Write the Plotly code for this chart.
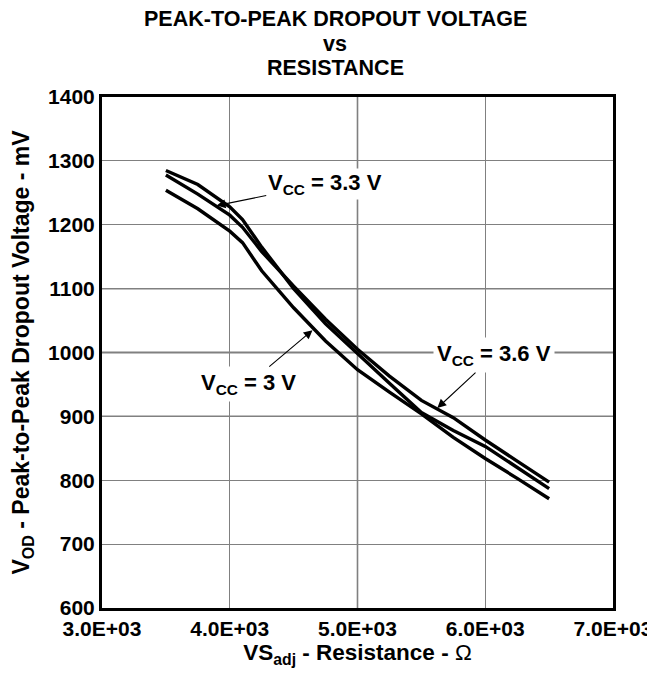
import plotly.graph_objects as go

# ---- data ----
resistance = [3500, 3750, 4000, 4100, 4250, 4500, 4750, 5000, 5250, 5500, 5750, 6000, 6250, 6500]
vod_3v3 = [1285, 1263, 1228, 1208, 1165, 1100, 1045, 998, 952, 906, 878, 853, 820, 787]
vod_3v6 = [1278, 1248, 1215, 1196, 1158, 1104, 1052, 1005, 963, 925, 898, 863, 830, 797]
vod_3v0 = [1254, 1225, 1190, 1172, 1128, 1070, 1018, 973, 938, 904, 867, 834, 803, 771]

x_tick_vals = [3000, 4000, 5000, 6000, 7000]
x_tick_text = ["3.0E+03", "4.0E+03", "5.0E+03", "6.0E+03", "7.0E+03"]
y_tick_vals = [600, 700, 800, 900, 1000, 1100, 1200, 1300, 1400]

dark_grid_y = [900, 1000, 1100]
dark_grid_x = [5000]

FONT = "Liberation Sans, Arial, sans-serif"

fig = go.Figure()
for vals in (vod_3v0, vod_3v3, vod_3v6):
    fig.add_trace(go.Scatter(x=resistance, y=vals, mode="lines",
                             line=dict(color="black", width=3.4),
                             showlegend=False, hoverinfo="skip"))

shapes = []
for yv in dark_grid_y:
    shapes.append(dict(type="line", xref="paper", yref="y", x0=0, x1=1, y0=yv, y1=yv,
                       line=dict(color="black", width=1.3), layer="between"))
for xv in dark_grid_x:
    shapes.append(dict(type="line", xref="x", yref="paper", x0=xv, x1=xv, y0=0, y1=1,
                       line=dict(color="black", width=1.3), layer="between"))

afont = dict(family=FONT, size=22, color="black")
tfont = dict(family=FONT, size=21.5, color="black")
annotations = [
    dict(x=3898, y=1230, xref="x", yref="y", text="<b>V<sub>CC</sub> = 3.3 V</b>",
         showarrow=True, ax=108, ay=-22, arrowhead=2, arrowsize=1.6, arrowwidth=1.1,
         arrowcolor="black", font=afont, bgcolor="white", borderpad=1),
    dict(x=5625, y=913, xref="x", yref="y", text="<b>V<sub>CC</sub> = 3.6 V</b>",
         showarrow=True, ax=57, ay=-53, arrowhead=2, arrowsize=1.6, arrowwidth=1.1,
         arrowcolor="black", font=afont, bgcolor="white", borderpad=3),
    dict(x=4648, y=1035, xref="x", yref="y", text="<b>V<sub>CC</sub> = 3 V</b>",
         showarrow=True, ax=-64, ay=54, arrowhead=2, arrowsize=1.6, arrowwidth=1.1,
         arrowcolor="black", font=afont, bgcolor="white", borderpad=3),
    dict(x=0.456, y=1.1527, xref="paper", yref="paper", xanchor="center", yanchor="middle",
         text="<b>PEAK-TO-PEAK DROPOUT VOLTAGE</b>", showarrow=False, font=tfont),
    dict(x=0.456, y=1.1037, xref="paper", yref="paper", xanchor="center", yanchor="middle",
         text="<b>vs</b>", showarrow=False, font=tfont),
    dict(x=0.456, y=1.0568, xref="paper", yref="paper", xanchor="center", yanchor="middle",
         text="<b>RESISTANCE</b>", showarrow=False, font=tfont),
]

# the page body adds an 8px offset, so the figure is sized 8px smaller
fig.update_layout(
    width=647, height=669,
    margin=dict(l=94, r=42, t=89, b=69, autoexpand=False),
    paper_bgcolor="white", plot_bgcolor="white",
    shapes=shapes, annotations=annotations,
    font=dict(family=FONT, color="black"),
)
fig.update_xaxes(range=[3000, 7000], tickvals=x_tick_vals, ticktext=x_tick_text,
                 showgrid=True, gridcolor="#808080", gridwidth=1.3,
                 showline=True, linecolor="black", linewidth=3, mirror=True,
                 ticks="", automargin=False,
                 tickfont=dict(family=FONT, size=21, color="black", weight="bold"),
                 zeroline=False,
                 title=dict(text="<b>VS<sub>adj</sub> - Resistance - </b>Ω",
                            font=dict(family=FONT, size=22.5, color="black"), standoff=4))
fig.update_yaxes(range=[600, 1400], tickvals=y_tick_vals,
                 showgrid=True, gridcolor="#808080", gridwidth=1.3,
                 showline=True, linecolor="black", linewidth=3, mirror=True,
                 ticks="", automargin=False,
                 tickfont=dict(family=FONT, size=21, color="black", weight="bold"),
                 zeroline=False,
                 title=dict(text="<b>V<sub>OD</sub> - Peak-to-Peak Dropout Voltage - mV</b>",
                            font=dict(family=FONT, size=23, color="black"), standoff=14))

fig.write_html("out.html")
